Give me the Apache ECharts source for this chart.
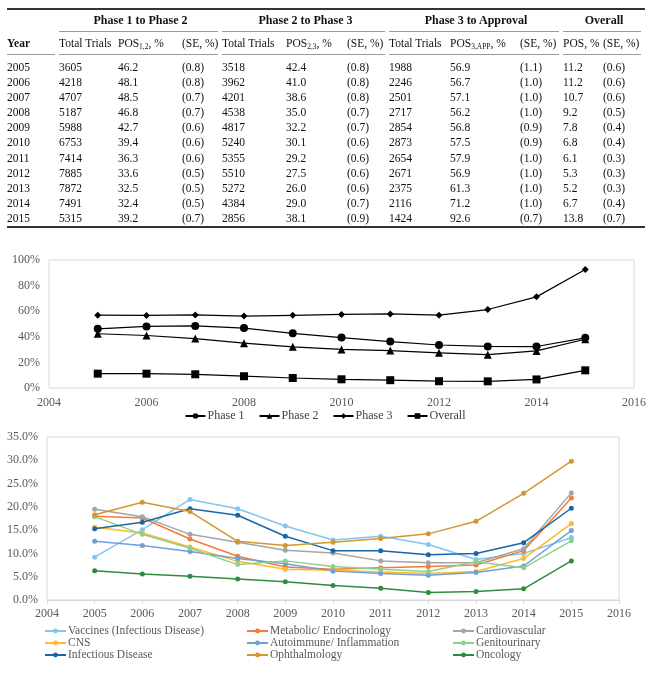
<!DOCTYPE html>
<html>
<head>
<meta charset="utf-8">
<script src="https://cdn.jsdelivr.net/npm/echarts@6.0.0/dist/echarts.min.js"></script>
<style>
  html, body { margin:0; padding:0; background:#fff; }
  #chart { position:absolute; left:0; top:0; width:650px; height:673px; }
  #tbl { position:absolute; left:7px; top:8px; z-index:2; border-collapse:separate; border-spacing:0;
         table-layout:fixed; width:638px; font-family:"Liberation Serif", serif; font-size:11.5px; color:#111;
         border-top:2px solid #333; border-bottom:2px solid #333; }
  #tbl td, #tbl th { padding:0; text-align:left; white-space:nowrap; font-weight:normal; }
  #tbl th.g { font-weight:bold; text-align:center; font-size:12px; }
  #tbl .b { font-weight:bold; }
  #tbl tr.h1 { height:21px; }
  #tbl tr.h2 { height:22px; }
  #tbl tr.ln { height:1px; }
  #tbl tr.ln td { height:1px; line-height:0; font-size:0; }
  #tbl tr.ln div { border-top:1px solid #999; margin-right:4px; }
  #tbl tr.sp { height:5px; }
  #tbl tr.r { height:15.1px; line-height:15.1px; }
  sub { font-size:7.5px; vertical-align:-2px; line-height:0; }
</style>
</head>
<body>
<table id="tbl"></table>
<div id="chart"></div>
<script>
// ---------- Data ----------
var years = [2005, 2006, 2007, 2008, 2009, 2010, 2011, 2012, 2013, 2014, 2015];
var trials12 = [3605, 4218, 4707, 5187, 5988, 6753, 7414, 7885, 7872, 7491, 5315];
var pos12 = [46.2, 48.1, 48.5, 46.8, 42.7, 39.4, 36.3, 33.6, 32.5, 32.4, 39.2];
var se12 = [0.8, 0.8, 0.7, 0.7, 0.6, 0.6, 0.6, 0.5, 0.5, 0.5, 0.7];
var trials23 = [3518, 3962, 4201, 4538, 4817, 5240, 5355, 5510, 5272, 4384, 2856];
var pos23 = [42.4, 41.0, 38.6, 35.0, 32.2, 30.1, 29.2, 27.5, 26.0, 29.0, 38.1];
var se23 = [0.8, 0.8, 0.8, 0.7, 0.7, 0.6, 0.6, 0.6, 0.6, 0.7, 0.9];
var trials3a = [1988, 2246, 2501, 2717, 2854, 2873, 2654, 2671, 2375, 2116, 1424];
var pos3a = [56.9, 56.7, 57.1, 56.2, 56.8, 57.5, 57.9, 56.9, 61.3, 71.2, 92.6];
var se3a = [1.1, 1.0, 1.0, 1.0, 0.9, 0.9, 1.0, 1.0, 1.0, 1.0, 0.7];
var posAll = [11.2, 11.2, 10.7, 9.2, 7.8, 6.8, 6.1, 5.3, 5.2, 6.7, 13.8];
var seAll = [0.6, 0.6, 0.6, 0.5, 0.4, 0.4, 0.3, 0.3, 0.3, 0.4, 0.7];

var groupHeaders = ['Phase 1 to Phase 2', 'Phase 2 to Phase 3', 'Phase 3 to Approval', 'Overall'];
var colHeaders = ['Year', 'Total Trials', 'POS<sub>1,2</sub>, %', '(SE, %)', 'Total Trials', 'POS<sub>2,3</sub>, %', '(SE, %)',
                  'Total Trials', 'POS<sub>3,APP</sub>, %', '(SE, %)', 'POS, %', '(SE, %)'];

var topLegend = ['Phase 1', 'Phase 2', 'Phase 3', 'Overall'];

var areaNames = ['Vaccines (Infectious Disease)', 'Metabolic/ Endocrinology', 'Cardiovascular', 'CNS',
                 'Autoimmune/ Inflammation', 'Genitourinary', 'Infectious Disease', 'Ophthalmology', 'Oncology'];
var vaccines     = [9.2, 15.1, 21.6, 19.6, 15.9, 12.9, 13.7, 11.9, 8.7, 10.0, 13.4];
var metabolic    = [18.0, 17.6, 13.1, 9.4, 7.1, 6.6, 6.9, 7.2, 7.5, 10.6, 21.9];
var cardio       = [19.5, 17.9, 14.1, 12.4, 10.7, 10.1, 8.4, 8.0, 8.0, 11.0, 23.0];
var cns          = [15.6, 14.4, 11.4, 8.3, 6.6, 6.4, 6.0, 5.7, 6.1, 8.9, 16.4];
var autoimmune   = [12.6, 11.7, 10.4, 8.9, 7.8, 6.2, 5.7, 5.3, 5.9, 7.3, 14.9];
var genito       = [17.9, 14.1, 11.1, 7.6, 8.4, 7.2, 6.6, 6.1, 8.2, 6.9, 12.7];
var infectious   = [15.3, 16.7, 19.6, 18.2, 13.7, 10.6, 10.6, 9.7, 10.0, 12.3, 19.7];
var ophthalmo    = [18.3, 21.0, 19.0, 12.6, 11.7, 12.4, 13.2, 14.2, 16.9, 22.9, 29.8];
var oncology     = [6.3, 5.6, 5.1, 4.5, 3.9, 3.1, 2.5, 1.6, 1.8, 2.4, 8.4];
var areaValues = [vaccines, metabolic, cardio, cns, autoimmune, genito, infectious, ophthalmo, oncology];
var areaColors = ['#82C6EE', '#F47B3A', '#A5A5A5', '#FFBA2C', '#6F9FD8', '#8ED18E', '#1B66A4', '#D4962F', '#2F8C3D'];

// ---------- Table ----------
var colW = [52, 59, 64, 40, 64, 61, 42, 61, 70, 43, 40, 42];
var groupSpans = [3, 3, 3, 2];
function f1(v) { return v.toFixed(1); }
var html = '<colgroup>' + colW.map(function (w) { return '<col style="width:' + w + 'px">'; }).join('') + '</colgroup>';
html += '<tr class="h1"><th></th>' + groupHeaders.map(function (g, i) {
  return '<th class="g" colspan="' + groupSpans[i] + '">' + g + '</th>'; }).join('') + '</tr>';
html += '<tr class="ln"><td></td>' + groupSpans.map(function (s) { return '<td colspan="' + s + '"><div></div></td>'; }).join('') + '</tr>';
html += '<tr class="h2">' + colHeaders.map(function (h, i) { return '<td' + (i === 0 ? ' class="b"' : '') + '>' + h + '</td>'; }).join('') + '</tr>';
html += '<tr class="ln"><td><div></div></td>' + groupSpans.map(function (s) { return '<td colspan="' + s + '"><div></div></td>'; }).join('') + '</tr>';
html += '<tr class="sp"><td colspan="12"></td></tr>';
years.forEach(function (y, i) {
  var cells = [y, trials12[i], f1(pos12[i]), '(' + f1(se12[i]) + ')', trials23[i], f1(pos23[i]), '(' + f1(se23[i]) + ')',
               trials3a[i], f1(pos3a[i]), '(' + f1(se3a[i]) + ')', f1(posAll[i]), '(' + f1(seAll[i]) + ')'];
  html += '<tr class="r">' + cells.map(function (c) { return '<td>' + c + '</td>'; }).join('') + '</tr>';
});
document.getElementById('tbl').innerHTML = html;

// ---------- Charts ----------
function pairs(vals) { return years.map(function (y, i) { return [y, vals[i]]; }); }
var FONT = 'Liberation Serif';
var labelStyle = { color: '#595959', fontSize: 12, fontFamily: FONT };
function yearFmt(v) { return String(v); }

var topSeries = [
  { name: 'Phase 1', vals: pos12, symbol: 'circle', size: 8 },
  { name: 'Phase 2', vals: pos23, symbol: 'triangle', size: 8 },
  { name: 'Phase 3', vals: pos3a, symbol: 'diamond', size: 7 },
  { name: 'Overall', vals: posAll, symbol: 'rect', size: 8 }
].map(function (s) {
  return { type: 'line', name: s.name, xAxisIndex: 0, yAxisIndex: 0, data: pairs(s.vals),
           symbol: s.symbol, symbolSize: s.size, showAllSymbol: true,
           itemStyle: { color: '#000' }, lineStyle: { color: '#000', width: 1.2 }, animation: false };
});

var bottomSeries = areaNames.map(function (n, i) {
  return { type: 'line', name: n, xAxisIndex: 1, yAxisIndex: 1, data: pairs(areaValues[i]),
           symbol: 'circle', symbolSize: 5, itemStyle: { color: areaColors[i] },
           lineStyle: { color: areaColors[i], width: 1.5 }, animation: false };
});

function legendCol(names, left) {
  return { orient: 'vertical', left: left, top: 625, bottom: 0, itemGap: 0, itemWidth: 21, itemHeight: 6,
           padding: 0, data: names,
           textStyle: { color: '#595959', fontSize: 11.5, lineHeight: 11.5, fontFamily: FONT, padding: [0, 0, 0, -3] } };
}

var chart = echarts.init(document.getElementById('chart'), null, { renderer: 'canvas' });
chart.setOption({
  animation: false,
  grid: [
    { left: 49, top: 260, width: 585, height: 128, show: true, borderColor: '#d9d9d9', borderWidth: 1, containLabel: false },
    { left: 47, top: 437, width: 572, height: 163, show: true, borderColor: '#d9d9d9', borderWidth: 1, containLabel: false }
  ],
  xAxis: [
    { gridIndex: 0, type: 'value', min: 2004, max: 2016, interval: 2,
      axisLine: { show: false }, axisTick: { show: false }, splitLine: { show: false },
      axisLabel: Object.assign({ margin: 9, formatter: yearFmt }, labelStyle) },
    { gridIndex: 1, type: 'value', min: 2004, max: 2016, interval: 1,
      axisLine: { show: true, lineStyle: { color: '#d9d9d9' } },
      axisTick: { show: true, length: 4, lineStyle: { color: '#d9d9d9' } }, splitLine: { show: false },
      axisLabel: Object.assign({ margin: 8, formatter: yearFmt }, labelStyle) }
  ],
  yAxis: [
    { gridIndex: 0, type: 'value', min: 0, max: 100, interval: 20,
      axisLine: { show: false }, axisTick: { show: false }, splitLine: { show: false },
      axisLabel: Object.assign({ margin: 9, formatter: '{value}%' }, labelStyle) },
    { gridIndex: 1, type: 'value', min: 0, max: 35, interval: 5,
      axisLine: { show: false }, axisTick: { show: false }, splitLine: { show: false },
      axisLabel: Object.assign({ margin: 9, formatter: function (v) { return v.toFixed(1) + '%'; } }, labelStyle) }
  ],
  legend: [
    { data: topLegend, left: 'center', top: 410, itemWidth: 20, itemHeight: 7, itemGap: 14, padding: 0,
      textStyle: { color: '#404040', fontSize: 12, fontFamily: FONT, padding: [0, 0, 0, -3] } },
    legendCol([areaNames[0], areaNames[3], areaNames[6]], 44),
    legendCol([areaNames[1], areaNames[4], areaNames[7]], 246),
    legendCol([areaNames[2], areaNames[5], areaNames[8]], 452)
  ],
  series: topSeries.concat(bottomSeries)
});
</script>
</body>
</html>
